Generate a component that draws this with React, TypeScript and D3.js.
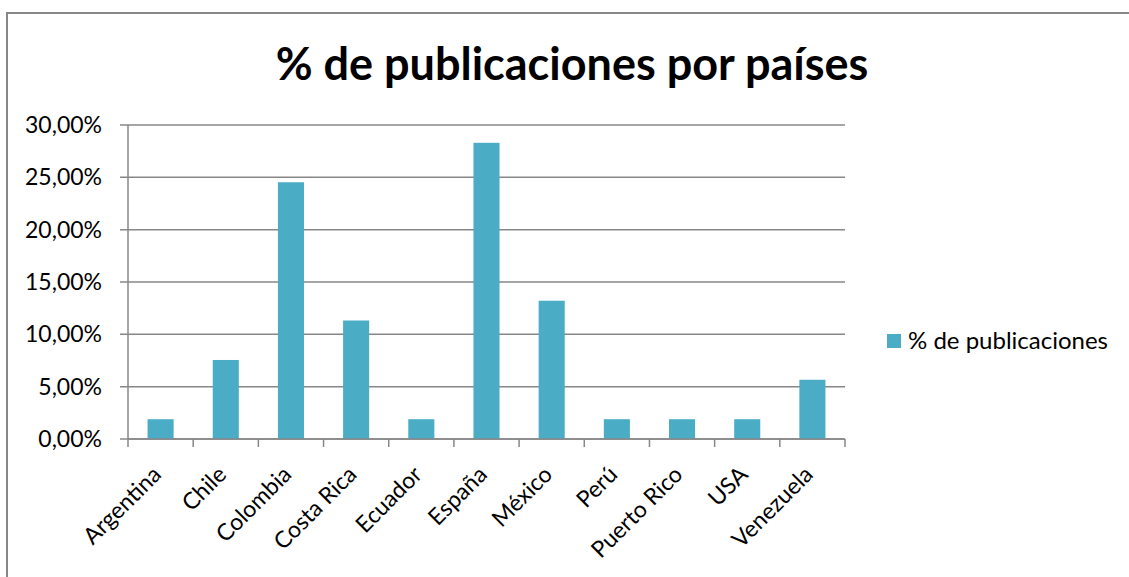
import React from "react";
import * as d3 from "d3";

const title = "% de publicaciones por países";
const seriesName = "% de publicaciones";
const categories = [
  "Argentina", "Chile", "Colombia", "Costa Rica", "Ecuador", "España",
  "México", "Perú", "Puerto Rico", "USA", "Venezuela",
];
const values = [1.89, 7.55, 24.53, 11.32, 1.89, 28.3, 13.21, 1.89, 1.89, 1.89, 5.66];
const yTicks = [0, 5, 10, 15, 20, 25, 30];

const W = 1129, H = 577;
const plot = { left: 128, right: 845, top: 125, bottom: 439 };
const barColor = "#4BACC6";
const gridColor = "#878787";
const font = "Lato, 'Open Sans', sans-serif";

export default function App() {
  const x = d3.scaleBand<string>().domain(categories).range([plot.left, plot.right]).paddingInner(0).paddingOuter(0);
  const y = d3.scaleLinear().domain([0, 30]).range([plot.bottom, plot.top]);
  const bw = x.bandwidth() * 0.4;
  const fmt = (v: number) => v.toFixed(2).replace(".", ",") + "%";
  return (
    <svg width={W} height={H} style={{ position: "absolute", left: 0, top: 0, background: "#fff" }}>
      <rect x={0} y={0} width={W} height={H} fill="#fff" />
      <line x1={7} y1={12} x2={7} y2={H} stroke={gridColor} strokeWidth={2} />
      <line x1={6} y1={13} x2={W} y2={13} stroke={gridColor} strokeWidth={2} />
      <text x={572} y={80} textAnchor="middle" fontFamily={font} fontWeight={700} fontSize={45} fill="#000">{title}</text>
      {yTicks.map((t) => (
        <g key={t}>
          <line x1={plot.left - 8} x2={plot.right} y1={y(t)} y2={y(t)} stroke={gridColor} strokeWidth={1.5} />
          <text x={102} y={y(t)} dy="0.35em" textAnchor="end" fontFamily={font} fontSize={23} fill="#000">{fmt(t)}</text>
        </g>
      ))}
      <line x1={plot.left} x2={plot.left} y1={plot.top} y2={plot.bottom} stroke={gridColor} strokeWidth={1.5} />
      {categories.map((c, i) => (
        <rect key={c} x={x(c)! + (x.bandwidth() - bw) / 2} y={y(values[i])} width={bw} height={plot.bottom - y(values[i])} fill={barColor} />
      ))}
      <line x1={plot.left} x2={plot.right} y1={plot.bottom} y2={plot.bottom} stroke={gridColor} strokeWidth={1.5} />
      {[...categories.map((c) => x(c)!), plot.right].map((px, i) => (
        <line key={i} x1={px} x2={px} y1={plot.bottom} y2={plot.bottom + 8} stroke={gridColor} strokeWidth={1.5} />
      ))}
      {categories.map((c) => {
        const cx = x(c)! + x.bandwidth() / 2 + 2;
        const cy = plot.bottom + 37;
        return (
          <text key={c} x={cx} y={cy} transform={`rotate(-45 ${cx} ${cy})`} textAnchor="end" fontFamily={font} fontSize={23} fill="#000">{c}</text>
        );
      })}
      <rect x={887} y={334} width={14} height={14} fill={barColor} />
      <text x={908} y={341} dy="0.35em" fontFamily={font} fontSize={24} fill="#000">{seriesName}</text>
    </svg>
  );
}
